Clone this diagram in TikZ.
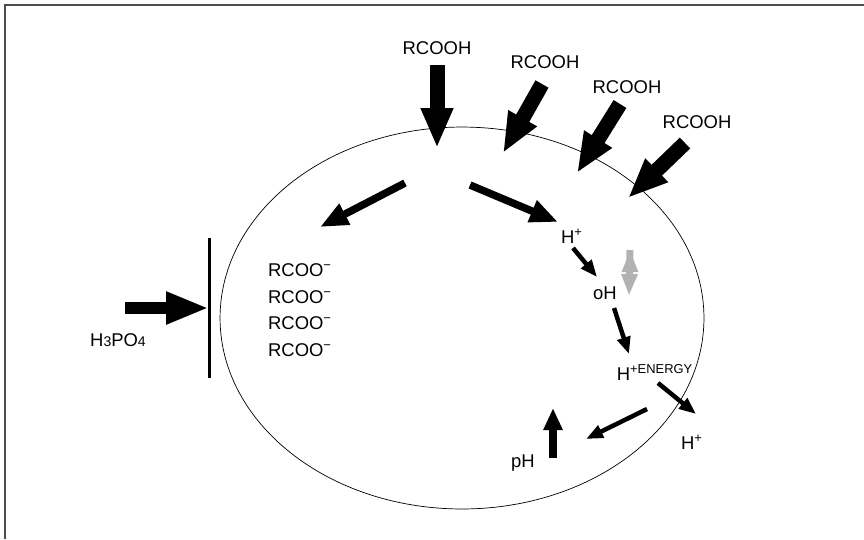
\documentclass[tikz,border=0pt]{standalone}
\usepackage{fontspec}
\setmainfont{Liberation Sans}
\usetikzlibrary{arrows.meta,positioning,shapes.geometric}
\tikzstyle{cell}=[ellipse,draw=black,thin,inner sep=0pt,minimum width=9.68cm,minimum height=7.64cm]
\tikzstyle{chem}=[font=\fontsize{10.5}{12}\selectfont,inner sep=0pt]
\tikzstyle{bigarrow}=[line width=0.3cm,-{Triangle[length=0.8cm,width=0.6cm]}]
\tikzstyle{midarrow}=[line width=0.15cm,-{Triangle[length=0.56cm,width=0.44cm]}]
\tikzstyle{smallarrow}=[line width=0.09cm,-{Triangle[length=0.34cm,width=0.26cm]}]
\tikzstyle{pharrow}=[line width=0.16cm,-{Triangle[length=0.44cm,width=0.36cm]}]
\tikzstyle{acidarrow}=[line width=0.24cm,-{Triangle[length=0.86cm,width=0.6cm]}]
\tikzstyle{greyarrow}=[line width=0.14cm,draw=gray!60,-{Triangle[length=0.44cm,width=0.3cm]}]

\begin{document}
\begin{tikzpicture}[x=0.02cm,y=-0.02cm]
            \useasboundingbox (0,0) rectangle (864,539);

            % FRAME PART

            \coordinate (f0) at (5,539);
            \coordinate (f1) at (5,5);
            \coordinate (f2) at (864,5);
            \draw[black!70,line width=0.8pt] (f0) -- (f1) -- (f2);

            % CELL PART

            \node[cell] (cell) at (462,318) {};

            % RCOOH PART

            \node[chem] (r1) at (437,48) {RCOOH};
            \node[chem] (r2) at (545,62) {RCOOH};
            \node[chem] (r3) at (627,87) {RCOOH};
            \node[chem] (r4) at (697,122) {RCOOH};

            \coordinate (a1) at (437,65);  \coordinate (b1) at (437,148);
            \coordinate (a2) at (542,84);  \coordinate (b2) at (503,153);
            \coordinate (a3) at (620,104); \coordinate (b3) at (577,173);
            \coordinate (a4) at (685,143); \coordinate (b4) at (628,198);

            \path[bigarrow] (a1) edge (b1);
            \path[bigarrow] (a2) edge (b2);
            \path[bigarrow] (a3) edge (b3);
            \path[bigarrow] (a4) edge (b4);

            % SPLIT PART

            \coordinate (s1) at (405,183); \coordinate (t1) at (320,227);
            \coordinate (s2) at (470,185); \coordinate (t2) at (558,222);

            \path[midarrow] (s1) edge (t1);
            \path[midarrow] (s2) edge (t2);

            % ANION PART

            \node[chem] (c1) at (300,270) {RCOO\textsuperscript{−}};
            \node[chem] (c2) at (300,297) {RCOO\textsuperscript{−}};
            \node[chem] (c3) at (300,323) {RCOO\textsuperscript{−}};
            \node[chem] (c4) at (300,350) {RCOO\textsuperscript{−}};

            % PROTON PART

            \node[chem] (h1) at (572,236) {H\textsuperscript{+}};
            \node[chem] (oh) at (605,293) {oH};
            \node[chem] (he) at (655,372) {H\textsuperscript{+ENERGY}};
            \node[chem] (h2) at (692,442) {H\textsuperscript{+}};
            \node[chem] (ph) at (523,463) {pH};

            \coordinate (g1) at (630,250); \coordinate (g2) at (629,296);
            \path[greyarrow] (g1) edge (g2);

            \coordinate (p1) at (573,248); \coordinate (q1) at (597,277);
            \coordinate (p2) at (614,308); \coordinate (q2) at (629,354);
            \coordinate (p3) at (658,383); \coordinate (q3) at (696,414);
            \coordinate (p4) at (647,409); \coordinate (q4) at (586,439);

            \path[smallarrow] (p1) edge (q1);
            \path[smallarrow] (p2) edge (q2);
            \path[smallarrow] (p3) edge (q3);
            \path[smallarrow] (p4) edge (q4);

            \coordinate (u1) at (553,458); \coordinate (v1) at (553,408);
            \path[pharrow] (u1) edge (v1);

            % H3PO4 PART

            \coordinate (w1) at (209,238); \coordinate (w2) at (209,378);
            \draw[line width=0.06cm] (w1) -- (w2);

            \node[chem] (acid) at (118,340) {H{\fontsize{8}{9}\selectfont 3}PO{\fontsize{8}{9}\selectfont 4}};
            \coordinate (k1) at (125,308);
            \path[acidarrow] (k1) edge (w1 |- k1);

\end{tikzpicture}
\end{document}
